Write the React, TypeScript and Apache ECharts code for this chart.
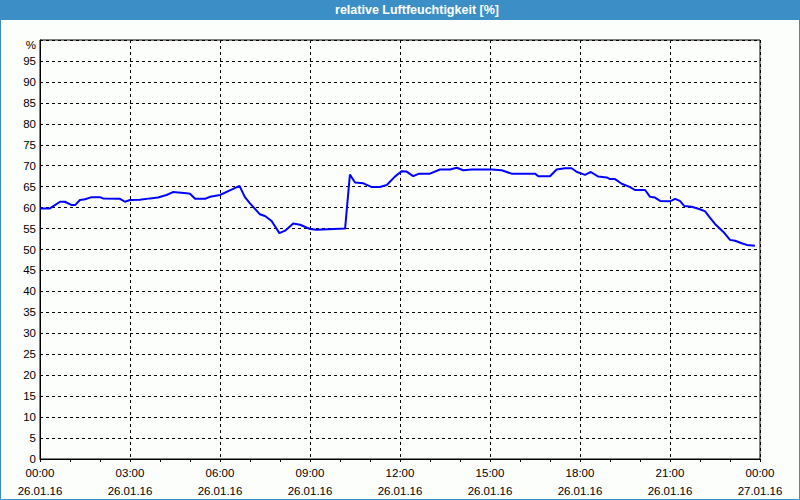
import React, { useEffect, useRef } from "react";
import * as echarts from "echarts";

const titleText = "relative Luftfeuchtigkeit [%]";
const timeLabels = ["00:00", "03:00", "06:00", "09:00", "12:00", "15:00", "18:00", "21:00", "00:00"];
const dateLabels = ["26.01.16", "26.01.16", "26.01.16", "26.01.16", "26.01.16", "26.01.16", "26.01.16", "26.01.16", "27.01.16"];
const yTickLabels = ["0", "5", "10", "15", "20", "25", "30", "35", "40", "45", "50", "55", "60", "65", "70", "75", "80", "85", "90", "95", "%"];

const hours = [
  0, 0.33, 0.67, 0.83, 1.06, 1.17, 1.33, 1.5, 1.72, 2.0, 2.1, 2.67, 2.83, 3.0, 3.33, 3.67, 3.93, 4.22, 4.43, 4.89,
  5.0, 5.17, 5.5, 5.67, 6.0, 6.33, 6.65, 6.83, 7.0, 7.33, 7.5, 7.72, 7.98, 8.17, 8.44, 8.67, 9.0, 9.22, 10.17, 10.33,
  10.5, 10.78, 11.06, 11.33, 11.56, 11.83, 12.06, 12.22, 12.44, 12.64, 13.0, 13.33, 13.67, 13.89, 14.11, 14.39, 15.06, 15.39, 15.72, 16.5,
  16.61, 17.0, 17.22, 17.5, 17.72, 17.9, 18.17, 18.36, 18.61, 18.89, 19.0, 19.17, 19.39, 19.67, 19.83, 20.17, 20.33, 20.5, 20.67, 21.0,
  21.17, 21.33, 21.47, 21.72, 22.0, 22.17, 22.33, 22.5, 22.78, 23.0, 23.17, 23.39, 23.56, 23.83,
];
const humidity = [
  59.8, 59.8, 61.4, 61.4, 60.6, 60.6, 61.8, 62.0, 62.5, 62.5, 62.2, 62.1, 61.4, 61.8, 61.9, 62.2, 62.4, 63.0, 63.7, 63.4,
  63.3, 62.1, 62.1, 62.6, 63.0, 64.1, 65.2, 62.5, 61.0, 58.4, 58.0, 56.8, 53.9, 54.5, 56.2, 55.9, 54.9, 54.7, 55.0, 67.9,
  66.0, 65.8, 64.9, 64.9, 65.4, 67.4, 68.7, 68.6, 67.5, 68.1, 68.1, 69.1, 69.1, 69.5, 68.9, 69.1, 69.1, 68.9, 68.1, 68.1,
  67.5, 67.5, 69.1, 69.4, 69.4, 68.5, 67.8, 68.5, 67.4, 67.2, 66.8, 66.8, 65.7, 64.9, 64.2, 64.2, 62.6, 62.4, 61.6, 61.5,
  62.1, 61.6, 60.4, 60.2, 59.6, 59.1, 57.6, 56.1, 54.2, 52.3, 52.1, 51.5, 51.1, 50.9,
];

const FONT = "Liberation Sans";

export default function App() {
  const ref = useRef<HTMLDivElement>(null);
  useEffect(() => {
    document.body.style.margin = "0";
    const chart = echarts.init(ref.current!, null, { renderer: "svg" });
    const data = hours.map((h, i) => [h, humidity[i]]);
    chart.setOption({
      animation: false,
      backgroundColor: "#fcfefc",
      graphic: [
        { type: "rect", shape: { x: 0, y: 0, width: 800, height: 20 }, style: { fill: "#3c8fc6" }, z: 10 },
        {
          type: "text",
          x: 417,
          y: 10,
          style: {
            text: titleText,
            fill: "#ffffff",
            font: `bold 12.5px "${FONT}"`,
            textAlign: "center",
            textVerticalAlign: "middle",
          },
          z: 11,
        },
        {
          type: "rect",
          shape: { x: 0.5, y: 0.5, width: 799, height: 499 },
          style: { fill: "none", stroke: "#3c8fc6", lineWidth: 1 },
          z: 10,
        },
      ],
      grid: {
        left: 40,
        right: 40,
        top: 40,
        bottom: 39,
        show: true,
        borderColor: "#000",
        borderWidth: 1,
        backgroundColor: "transparent",
      },
      xAxis: {
        type: "value",
        min: 0,
        max: 24,
        interval: 3,
        axisLine: { show: true, lineStyle: { color: "#000", width: 1 } },
        axisTick: { show: true, length: 3, lineStyle: { color: "#000" } },
        minorTick: { show: true, splitNumber: 3, length: 3, lineStyle: { color: "#000" } },
        splitLine: { show: true, lineStyle: { color: "#000", type: [3, 3], width: 1 } },
        axisLabel: {
          showMinLabel: true,
          showMaxLabel: true,
          margin: 5,
          color: "#000",
          fontFamily: FONT,
          fontSize: 11.5,
          lineHeight: 18,
          formatter: (v: number) => {
            const i = Math.round(v / 3);
            return timeLabels[i] + "\n" + dateLabels[i];
          },
        },
      },
      yAxis: {
        type: "value",
        min: 0,
        max: 100,
        interval: 5,
        axisLine: { show: true, lineStyle: { color: "#000", width: 1 } },
        axisTick: { show: false },
        splitLine: { show: true, lineStyle: { color: "#000", type: [3, 3], width: 1 } },
        axisLabel: {
          showMinLabel: true,
          showMaxLabel: true,
          margin: 4,
          color: "#000",
          fontFamily: FONT,
          fontSize: 11.5,
          formatter: (v: number) => {
            const i = Math.round(v / 5);
            return i === 20 ? "{p|" + yTickLabels[i] + "}" : yTickLabels[i];
          },
          rich: {
            p: { color: "#000", fontFamily: FONT, fontSize: 11.5, padding: [10, 0, 0, 0] },
          },
        },
      },
      series: [
        {
          type: "line",
          data,
          showSymbol: false,
          symbol: "none",
          lineStyle: { color: "#0000ff", width: 2 },
          itemStyle: { color: "#0000ff" },
          z: 5,
        },
      ],
    });
    return () => chart.dispose();
  }, []);
  return <div ref={ref} style={{ position: "fixed", left: 0, top: 0, width: 800, height: 500 }} />;
}
